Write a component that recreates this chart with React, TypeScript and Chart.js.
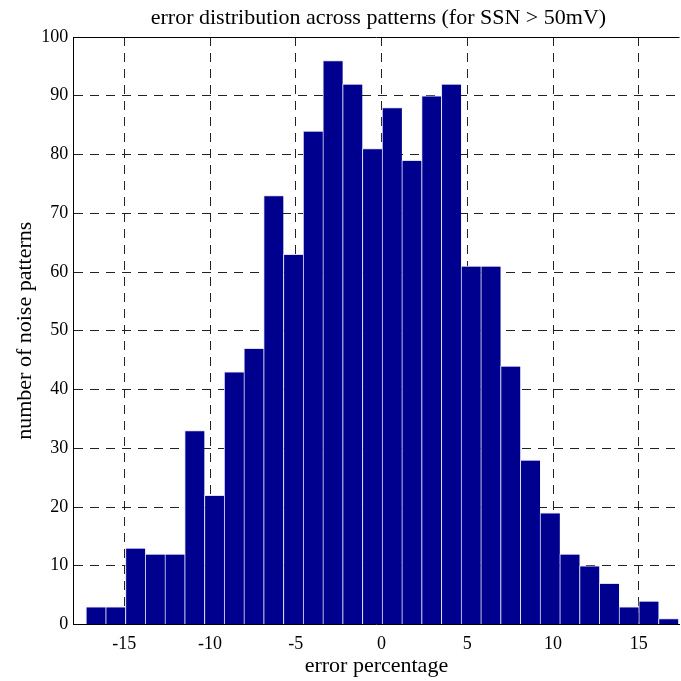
import { useEffect, useRef } from "react";
import { Chart, registerables } from "chart.js";

Chart.register(...registerables);

// Histogram of estimation error over the noise patterns
const chartTitle = "error distribution across patterns (for SSN > 50mV)";
const xAxisTitle = "error percentage";
const yAxisTitle = "number of noise patterns";

// Centre of each histogram bin (error percentage)
const binCenters = [
  -16.655, -15.504, -14.353, -13.202, -12.051, -10.9, -9.749, -8.598, -7.447, -6.296,
  -5.145, -3.994, -2.843, -1.692, -0.541, 0.61, 1.761, 2.912, 4.063, 5.214,
  6.365, 7.516, 8.667, 9.818, 10.969, 12.12, 13.271, 14.422, 15.573, 16.724,
];

// Number of noise patterns falling in each bin
const patternCounts = [
  3, 3, 13, 12, 12, 33, 22, 43, 47, 73,
  63, 84, 96, 92, 81, 88, 79, 90, 92, 61,
  61, 44, 28, 19, 12, 10, 7, 3, 4, 1,
];

const xTickValues = [-15, -10, -5, 0, 5, 10, 15];
const yTickValues = [0, 10, 20, 30, 40, 50, 60, 70, 80, 90, 100];
const xLimits = [-17.97, 17.37];
const yLimits = [0, 100];

const SERIF = "'Liberation Serif', 'Times New Roman', serif";

// Title centred over the plot box, plus the solid top edge of the box
const frameAndTitle = {
  id: "frameAndTitle",
  afterDraw(chart: any) {
    const { ctx, chartArea } = chart;
    ctx.save();
    ctx.strokeStyle = "#000";
    ctx.lineWidth = 1;
    ctx.beginPath();
    const y = Math.round(chartArea.top) + 0.5;
    ctx.moveTo(chartArea.left, y);
    ctx.lineTo(chartArea.right, y);
    ctx.stroke();

    ctx.fillStyle = "#000";
    ctx.font = `22px ${SERIF}`;
    ctx.textAlign = "center";
    ctx.textBaseline = "alphabetic";
    ctx.fillText(chartTitle, (chartArea.left + chartArea.right) / 2 + 2, 24);
    ctx.restore();
  },
};

export default function App() {
  const canvasRef = useRef<HTMLCanvasElement | null>(null);

  useEffect(() => {
    if (!canvasRef.current) return;
    const chart = new Chart(canvasRef.current, {
      type: "bar",
      data: {
        datasets: [
          {
            data: binCenters.map((x, i) => ({ x, y: patternCounts[i] })),
            backgroundColor: "#00008f",
            borderColor: "#dcdcf4",
            borderWidth: { top: 1, left: 1, right: 0, bottom: 0 },
            borderSkipped: false,
            barPercentage: 1,
            categoryPercentage: 1,
          },
        ],
      },
      options: {
        animation: false,
        responsive: true,
        maintainAspectRatio: false,
        layout: { padding: { top: 37, right: 1.5, bottom: 0, left: 0 } },
        plugins: {
          legend: { display: false },
          tooltip: { enabled: false },
          title: { display: false },
        },
        scales: {
          x: {
            type: "linear",
            min: xLimits[0],
            max: xLimits[1],
            offset: false,
            afterBuildTicks(scale: any) {
              scale.ticks = xTickValues.map((v) => ({ value: v }));
            },
            afterFit(scale: any) {
              scale.height = 56.5;
            },
            grid: { offset: false, color: "#222", lineWidth: 1, drawTicks: false },
            border: { display: true, color: "#000", width: 1, dash: [9, 7] },
            ticks: {
              color: "#000",
              font: { family: SERIF, size: 18 },
              padding: 9,
              maxRotation: 0,
            },
            title: {
              display: true,
              text: xAxisTitle,
              color: "#000",
              font: { family: SERIF, size: 22 },
              padding: { top: 0, bottom: 2 },
            },
          },
          y: {
            type: "linear",
            min: yLimits[0],
            max: yLimits[1],
            afterBuildTicks(scale: any) {
              scale.ticks = yTickValues.map((v) => ({ value: v }));
            },
            afterFit(scale: any) {
              scale.width = 73.3;
            },
            grid: { color: "#222", lineWidth: 1, drawTicks: false },
            border: { display: true, color: "#000", width: 1, dash: [9, 7] },
            ticks: {
              color: "#000",
              font: { family: SERIF, size: 18 },
              padding: 5,
            },
            title: {
              display: true,
              text: yAxisTitle,
              color: "#000",
              font: { family: SERIF, size: 22 },
              padding: { top: 12, bottom: 0 },
            },
          },
        },
      },
      plugins: [frameAndTitle],
    });
    return () => chart.destroy();
  }, []);

  return (
    <div style={{ position: "absolute", left: 0, top: 0, width: 681, height: 681, background: "#fff" }}>
      <canvas ref={canvasRef} />
    </div>
  );
}
